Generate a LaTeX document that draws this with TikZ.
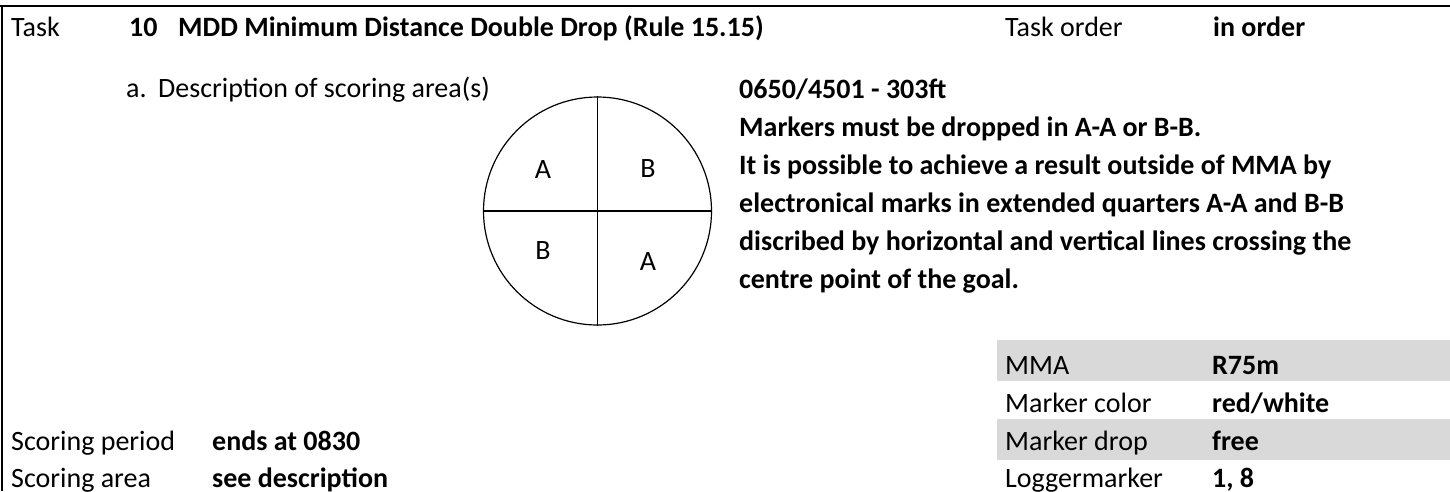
\documentclass[tikz,border=0pt]{standalone}
\usepackage{fontspec}
\setmainfont{Carlito}
\definecolor{bandgray}{HTML}{D9D9D9}
\tikzset{
  txt/.style={anchor=base west, inner sep=0pt, font=\fontsize{28}{34}\selectfont},
  btxt/.style={txt, font=\fontsize{28}{34}\selectfont\bfseries},
  qlabel/.style={anchor=center, inner sep=0pt, font=\fontsize{28}{34}\selectfont},
  border/.style={line width=2.5pt},
  band/.style={fill=bandgray, draw=none},
  geom/.style={line width=1.2pt}
}
\begin{document}
\begin{tikzpicture}[x=1pt,y=-1pt]
\useasboundingbox (0,0) rectangle (1450,491);
% bands
\fill[band] (997,340) rectangle (1450,381);
\fill[band] (997,419) rectangle (1450,460);
% borders
\coordinate (tl) at (0,6);
\coordinate (tr) at (1450,6);
\coordinate (lt) at (2,6);
\coordinate (lb) at (2,491);
\draw[border] (tl) -- (tr);
\draw[border] (lt) -- (lb);
% row 1
\node[txt]  (task)  at (11,36)    {Task};
\node[btxt] (num)   at (129,36)  {10};
\node[btxt] (title) at (178,36)  {MDD Minimum Distance Double Drop (Rule 15.15)};
\node[txt]  (tord)  at (1005,36) {Task order};
\node[btxt] (tordv) at (1213,36) {in order};
% row 2
\node[txt] (desca) at (126,97) {a.};
\node[txt] (desc)  at (158,97) {Description of scoring area(s)};
% circle
\node[draw, circle, geom, minimum size=228pt, inner sep=0pt] (goal) at (597.5,211) {};
\draw[geom] (goal.north) -- (goal.south);
\draw[geom] (goal.west) -- (goal.east);
\node[qlabel] (qa1) at (543,170) {A};
\node[qlabel] (qb1) at (648,169) {B};
\node[qlabel] (qb2) at (543,251) {B};
\node[qlabel] (qa2) at (648,262) {A};
% description block
\node[btxt] (l1) at (739,98)  {0650/4501 - 303ft};
\node[btxt] (l2) at (739,136) {Markers must be dropped in A-A or B-B.};
\node[btxt] (l3) at (739,174) {It is possible to achieve a result outside of MMA by};
\node[btxt] (l4) at (739,212) {electronical marks in extended quarters A-A and B-B};
\node[btxt] (l5) at (739,250) {discribed by horizontal and vertical lines crossing the};
\node[btxt] (l6) at (739,288) {centre point of the goal.};
% right table
\node[txt]  (mma)   at (1005,374) {MMA};
\node[btxt] (mmav)  at (1212,374) {R75m};
\node[txt]  (mcol)  at (1005,412) {Marker color};
\node[btxt] (mcolv) at (1212,412) {red/white};
\node[txt]  (mdrop) at (1005,450) {Marker drop};
\node[btxt] (mdropv) at (1212,450) {free};
\node[txt]  (logm)  at (1005,487) {Loggermarker};
\node[btxt] (logmv) at (1212,487) {1, 8};
% left bottom
\node[txt]  (sp)  at (11,450)  {Scoring period};
\node[btxt] (spv) at (212,450) {ends at 0830};
\node[txt]  (sa)  at (11,487)  {Scoring area};
\node[btxt] (sav) at (212,487) {see description};
\end{tikzpicture}
\end{document}
